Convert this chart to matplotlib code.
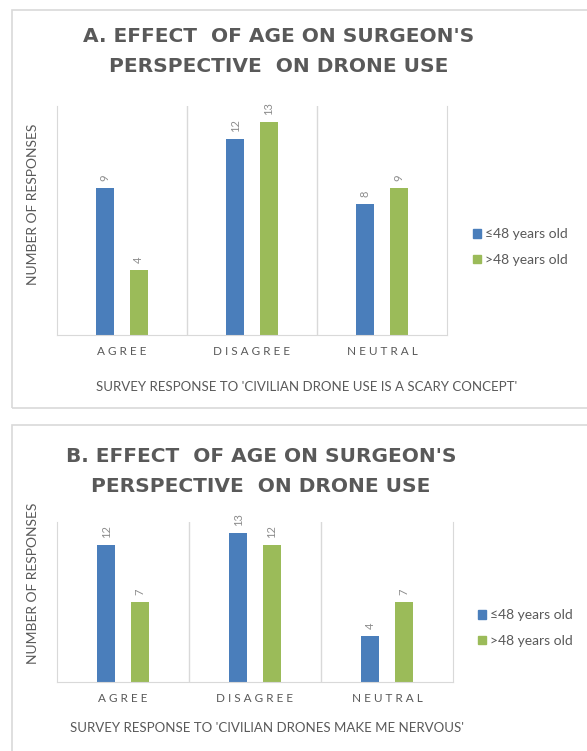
import matplotlib
matplotlib.use('Agg')
import matplotlib.pyplot as plt
from matplotlib.patches import Rectangle, Patch

# survey data
categories = ['AGREE', 'DISAGREE', 'NEUTRAL']
groups = ['≤48 years old', '>48 years old']
scary_young = [9, 12, 8]
scary_old = [4, 13, 9]
nervous_young = [12, 13, 4]
nervous_old = [7, 12, 7]

W, H = 587, 751
BLUE = '#4a7ebb'
GREEN = '#9bbb59'
GRID = '#d9d9d9'
TXT = '#595959'
BODY = ['Lato', 'DejaVu Sans']

fig = plt.figure(figsize=(W / 100, H / 100), dpi=100)
fig.patch.set_facecolor('white')


def fx(px):
    return px / W


def fy(py):
    return 1 - py / H


def panel(box, ax_px, title, title_x, title_y, xlabel, xlabel_x, xlabel_y,
          ylabel_y, legend_px, young, old):
    # outer frame of the chart
    x0, y0, x1, y1 = box
    fig.patches.append(Rectangle((fx(x0), fy(y1)), fx(x1 - x0), (y1 - y0) / H,
                                 transform=fig.transFigure, fill=False,
                                 edgecolor=GRID, lw=1.2))
    l, t, r, b = ax_px
    ax = fig.add_axes([fx(l), fy(b), fx(r - l), (b - t) / H])
    pos = list(range(len(categories)))
    w = 0.14
    off = 0.128
    b1 = ax.bar([p - off for p in pos], young, w, color=BLUE)
    b2 = ax.bar([p + off for p in pos], old, w, color=GREEN)
    for bars in (b1, b2):
        for rect in bars:
            ax.annotate(str(int(rect.get_height())),
                        (rect.get_x() + rect.get_width() / 2, rect.get_height()),
                        xytext=(0, 5), textcoords='offset points',
                        rotation=90, ha='center', va='bottom',
                        fontsize=8, color='#8c8c8c', family=BODY)
    ax.set_xlim(-0.5, 2.5)
    ax.set_ylim(0, 14)
    for xv in [0.5, 1.5]:
        ax.axvline(xv, color=GRID, lw=1)
    for s in ['left', 'right', 'bottom']:
        ax.spines[s].set_color(GRID)
    ax.spines['top'].set_visible(False)
    ax.set_yticks([])
    ax.set_xticks(pos)
    ax.set_xticklabels([' '.join(c) for c in categories], fontsize=8.5,
                       color=TXT, family=BODY)
    ax.tick_params(axis='x', length=0, pad=8)

    for line, ty in zip(title, title_y):
        fig.text(fx(title_x), fy(ty), line, ha='center', va='center',
                 fontsize=14.5, fontweight='bold', color=TXT,
                 family='DejaVu Sans')
    fig.text(fx(xlabel_x), fy(xlabel_y), xlabel, ha='center', va='center',
             fontsize=9.5, color=TXT, family=BODY)
    fig.text(fx(33), fy(ylabel_y), 'NUMBER OF RESPONSES', ha='center',
             va='center', rotation=90, fontsize=10, color=TXT, family=BODY)

    handles = [Patch(color=BLUE), Patch(color=GREEN)]
    leg = ax.legend(handles, groups, loc='center left',
                    bbox_to_anchor=(fx(legend_px[0]), fy(legend_px[1])),
                    bbox_transform=fig.transFigure, frameon=False,
                    handlelength=0.6, handleheight=0.6, handletextpad=0.25,
                    labelspacing=1.0, borderpad=0, borderaxespad=0,
                    prop={'family': BODY, 'size': 10})
    for t in leg.get_texts():
        t.set_color(TXT)
    return ax


panel((12, 10, 600, 408), (57, 106, 447, 335),
      ["A. EFFECT  OF AGE ON SURGEON'S", "PERSPECTIVE  ON DRONE USE"],
      279, (37, 66),
      "SURVEY RESPONSE TO 'CIVILIAN DRONE USE IS A SCARY CONCEPT'", 307, 387,
      204, (473, 247), scary_young, scary_old)

panel((12, 425, 600, 770), (57, 522, 453, 682),
      ["B. EFFECT  OF AGE ON SURGEON'S", "PERSPECTIVE  ON DRONE USE"],
      261, (457, 487),
      "SURVEY RESPONSE TO 'CIVILIAN DRONES MAKE ME NERVOUS'", 267, 728,
      583, (478, 628), nervous_young, nervous_old)

fig.savefig('out.png', dpi=100, facecolor='white')
